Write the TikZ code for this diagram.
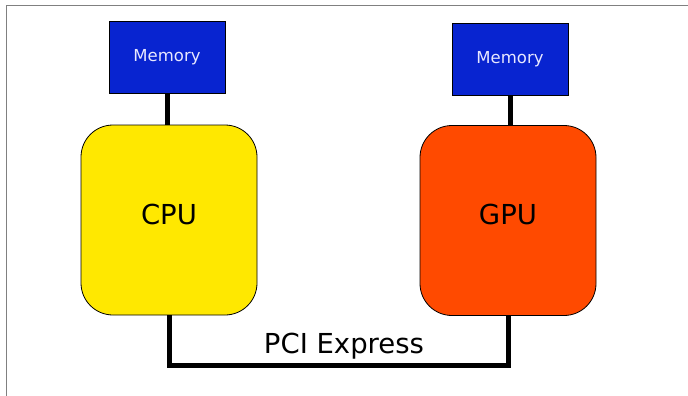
\documentclass[tikz,border=0pt]{standalone}
\usepackage{fontspec}
\setmainfont{DejaVu Sans}
\definecolor{memblue}{HTML}{0824D0}
\definecolor{cpuyellow}{HTML}{FFE800}
\definecolor{gpuorange}{HTML}{FF4A00}
\definecolor{memtext}{HTML}{E8E8FF}
\definecolor{framegray}{HTML}{808080}
\tikzset{
  membox/.style={draw=black, line width=0.8pt, fill=memblue, text=memtext,
    minimum width=116pt, minimum height=72pt, inner sep=0pt,
    font=\fontsize{16.5pt}{19pt}\selectfont},
  procbox/.style={draw=black, line width=0.8pt, rounded corners=32pt,
    minimum width=176pt, minimum height=190pt, inner sep=0pt, text depth=12pt,
    font=\fontsize{27.5pt}{32pt}\selectfont},
  bus/.style={line width=5pt, line join=miter, line cap=butt},
  lbl/.style={inner sep=0pt, font=\fontsize{27.5pt}{32pt}\selectfont}
}
\begin{document}
\begin{tikzpicture}[x=1pt, y=-1pt]
\useasboundingbox (0,0) rectangle (688,396);
\fill[white] (0,0) rectangle (688,396);
\draw[framegray, line width=1.5pt] (688,5.5) -- (6.5,5.5) -- (6.5,396);
\node[membox] (mem1) at (167,57) {Memory};
\node[membox] (mem2) at (510,59) {Memory};
\node[procbox, fill=cpuyellow] (cpu) at (169,220) {CPU};
\node[procbox, fill=gpuorange] (gpu) at (508,220.5) {GPU};
\draw[bus] (mem1.south) -- (mem1.south |- cpu.north);
\draw[bus] (mem2.south) -- (mem2.south |- gpu.north);
\coordinate (busmid) at (340,365.5);
\draw[bus] (cpu.south) |- (busmid) -| (gpu.south);
\node[lbl] (pci) at (344,346) {PCI Express};
\end{tikzpicture}
\end{document}
